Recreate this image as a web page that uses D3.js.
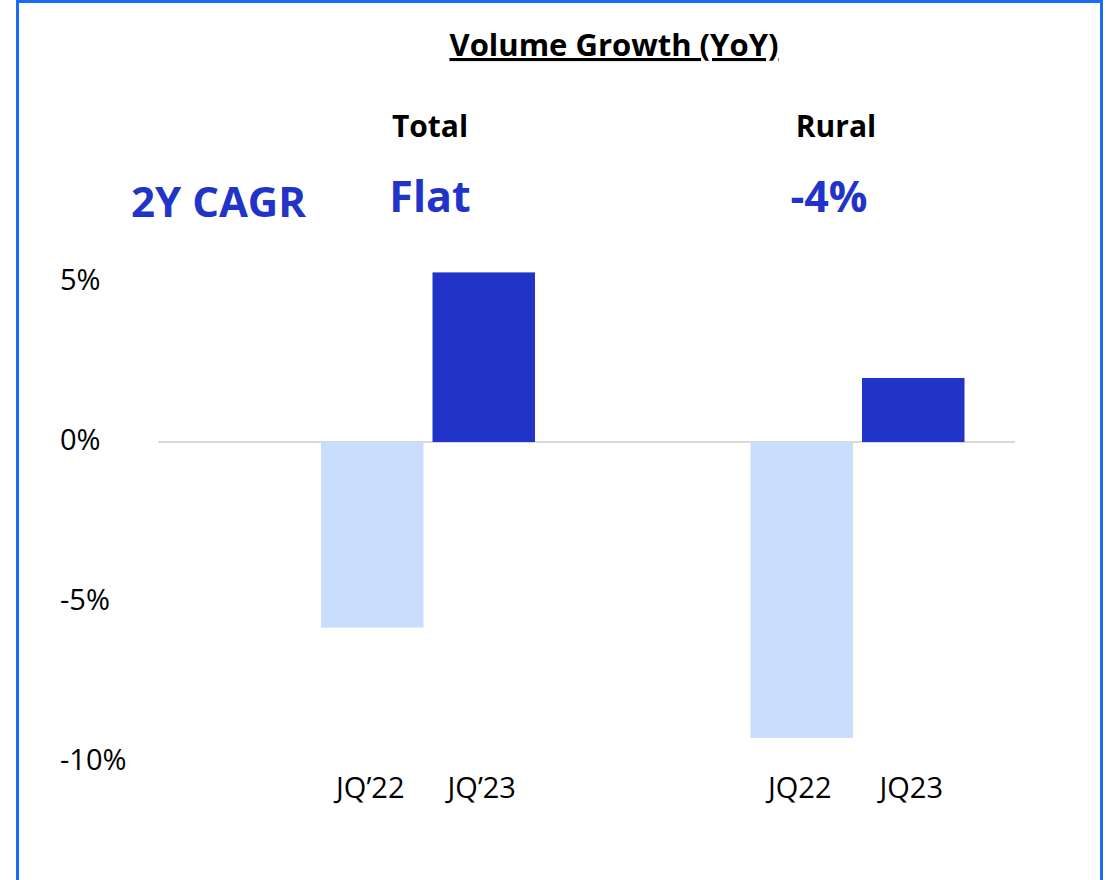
<!DOCTYPE html>
<html><head><meta charset="utf-8">
<script src="https://cdn.jsdelivr.net/npm/d3@7"></script>
<style>
html,body{margin:0;padding:0;background:#fff;}
svg{display:block;font-family:"Open Sans",sans-serif;}
</style></head>
<body>
<svg id="chart" width="1107" height="880"></svg>
<script>
const groups = ["Total", "Rural"];
const periods = ["prev", "curr"];
const categoryLabels = [["JQ’22", "JQ’23"], ["JQ22", "JQ23"]];
const prevValues = [-5.8, -9.25];
const currValues = [5.3, 2.0];
const cagrLabels = ["Flat", "-4%"];
const yTicks = [5, 0, -5, -10];
const tickLabels = ["5%", "0%", "-5%", "-10%"];

const svg = d3.select("#chart");
const blue = "#2234c8", light = "#c9ddfd";

// frame
svg.append("rect").attr("x", 17.5).attr("y", 1.5).attr("width", 1084).attr("height", 900)
  .attr("fill", "none").attr("stroke", "#1a6cf0").attr("stroke-width", 3);

const y = d3.scaleLinear().domain([-10, 5]).range([762, 282]);
const x0 = d3.scalePoint().domain(groups).range([428, 857.5]);
const x1 = d3.scaleBand().domain(periods).range([-107, 107]).paddingInner(0.0807);

// title
svg.append("text").attr("x", 614).attr("y", 56).attr("text-anchor", "middle")
  .attr("font-size", 31).attr("font-weight", 700).attr("text-decoration", "underline")
  .attr("fill", "#000").text("Volume Growth (YoY)");

// group headers
svg.selectAll(".gh").data(groups).join("text").attr("class", "gh")
  .attr("x", (d, i) => i === 0 ? 430 : 836).attr("y", 137).attr("text-anchor", "middle")
  .attr("font-size", 30).attr("font-weight", 700).attr("fill", "#000").text(d => d);

svg.append("text").attr("x", 131).attr("y", 217).attr("font-size", 42).attr("font-weight", 700)
  .attr("fill", blue).text("2Y CAGR");
svg.selectAll(".cg").data(cagrLabels).join("text").attr("class", "cg")
  .attr("x", (d, i) => i === 0 ? 430 : 829).attr("y", 212).attr("text-anchor", "middle")
  .attr("font-size", 43).attr("font-weight", 700).attr("fill", blue).text(d => d);

// y tick labels
svg.selectAll(".yt").data(yTicks).join("text").attr("class", "yt")
  .attr("x", 60).attr("y", d => y(d) + 8).attr("font-size", 29).attr("fill", "#000")
  .text((d, i) => tickLabels[i]);

// zero line
svg.append("line").attr("x1", 158).attr("x2", 1015).attr("y1", y(0)).attr("y2", y(0))
  .attr("stroke", "#d9d9d9").attr("stroke-width", 2);

// bars
const g = svg.selectAll(".grp").data(groups).join("g").attr("class", "grp")
  .attr("transform", d => `translate(${x0(d)},0)`);
g.append("rect").attr("x", x1("prev")).attr("width", x1.bandwidth())
  .attr("y", (d, i) => y(Math.max(0, prevValues[i])))
  .attr("height", (d, i) => Math.abs(y(prevValues[i]) - y(0))).attr("fill", light);
g.append("rect").attr("x", x1("curr")).attr("width", x1.bandwidth())
  .attr("y", (d, i) => y(Math.max(0, currValues[i])))
  .attr("height", (d, i) => Math.abs(y(currValues[i]) - y(0))).attr("fill", blue);

// category labels
g.each(function(d, i) {
  d3.select(this).selectAll(".cl").data(periods).join("text").attr("class", "cl")
    .attr("x", p => x1(p) + x1.bandwidth() / 2 - 2).attr("y", 798).attr("text-anchor", "middle")
    .attr("font-size", 29).attr("fill", "#000")
    .text((p, j) => categoryLabels[i][j]);
});
</script>
</body></html>
